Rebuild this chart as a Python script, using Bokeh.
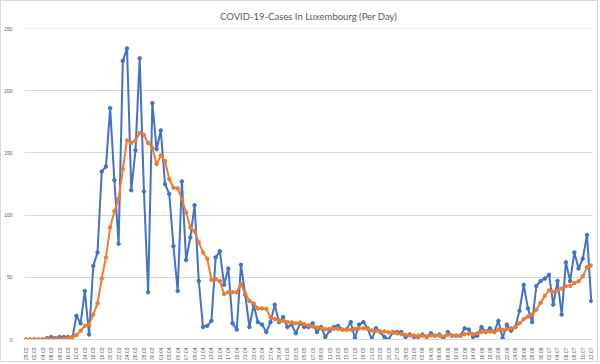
import pandas as pd
from math import pi
from bokeh.plotting import figure
from bokeh.models import FixedTicker, Range1d, ColumnDataSource
from bokeh.embed import file_html
from bokeh.resources import INLINE

# Daily new cases (blue)
cases = [0, 0, 0, 0, 0, 1, 2, 1, 2, 2,
         2, 0, 19, 13, 39, 4, 59, 70, 135, 139,
         186, 128, 77, 224, 234, 120, 152, 226, 119, 38,
         190, 153, 168, 125, 117, 75, 39, 127, 64, 82,
         108, 47, 10, 11, 15, 66, 71, 44, 57, 13,
         8, 60, 36, 10, 28, 14, 12, 6, 14, 28,
         14, 18, 10, 12, 5, 13, 10, 10, 13, 6,
         10, 2, 7, 10, 11, 8, 8, 14, 1, 12,
         14, 9, 0, 9, 6, 2, 0, 6, 6, 6,
         2, 4, 2, 2, 4, 2, 5, 3, 4, 0,
         6, 3, 3, 3, 9, 8, 2, 3, 10, 6,
         9, 6, 15, 1, 12, 7, 10, 23, 44, 25,
         14, 43, 47, 49, 52, 28, 47, 20, 62, 47,
         70, 57, 65, 84, 31]

# Moving average (orange)
average = [0, 0, 0, 0, 0, 0.2, 0.5, 0.5, 0.7, 0.5,
           1, 2, 3.5, 7, 11, 12, 20, 29, 49, 66,
           90, 103, 113, 137, 160, 158, 160, 166, 164.5, 158,
           154, 141, 148, 143.5, 129, 122, 121.5, 113, 102, 90,
           87, 78, 70, 65, 48, 48.6, 46.8, 36.5, 38, 38,
           38, 44.6, 37, 31, 29, 25, 25, 24.7, 17.7, 16.4,
           15.3, 15, 14, 13.7, 13, 13.7, 12.3, 11.3, 10.5, 9.7,
           9, 8.3, 8.6, 8.6, 8.6, 7.8, 7.8, 7.8, 8.6, 9,
           9, 8.6, 7.3, 7, 6.5, 6.5, 5.6, 5.6, 5, 4.3,
           3.8, 3.2, 3.2, 3, 3, 2.4, 3.2, 3, 3.2, 2.4,
           3.8, 3.2, 3.2, 3.2, 4.3, 4.6, 4.3, 5, 6, 6.5,
           6.5, 6, 7.8, 7.8, 8.3, 9, 10, 13, 16.4, 18.5,
           20, 24, 29.5, 35, 39.4, 38.3, 39.4, 41, 43, 43,
           45.4, 46.8, 50.8, 58, 59.4]

dates = list(pd.date_range("2020-02-29", periods=len(cases)).strftime("%d.%m"))
y_ticks = [0, 50, 100, 150, 200, 250]

idx = list(range(len(cases)))
src = ColumnDataSource(dict(x=idx, cases=cases, avg=average))

BLUE = "#4472C4"
ORANGE = "#ED7D31"
GRAY = "#595959"
GRID = "#D9D9D9"

p = figure(width=598, height=362, output_backend="svg", toolbar_location=None,
           x_range=Range1d(-0.3, len(cases) - 0.7), y_range=Range1d(0, 250),
           min_border_left=20, min_border_right=7, min_border_top=27, min_border_bottom=24,
           background_fill_color=None, border_fill_color=None)
p.styles = {"border": "1px solid #D9D9D9", "background-color": "white"}

p.title.text = "COVID-19-Cases In Luxembourg (Per Day)"
p.title.align = "center"
p.title.text_font = "Lato"
p.title.text_font_size = "9.5px"
p.title.text_font_style = "normal"
p.title.text_color = GRAY
p.title.standoff = 13

p.outline_line_color = None
p.xgrid.visible = False
p.ygrid.visible = False
# horizontal gridlines drawn as glyphs at the y tick values
p.hspan(y=y_ticks[1:], line_color=GRID, line_width=1, level="underlay")

p.yaxis.ticker = FixedTicker(ticks=y_ticks)
p.yaxis.axis_line_color = None
p.yaxis.major_tick_line_color = None
p.yaxis.minor_tick_line_color = None
p.yaxis.major_label_text_font_size = "5px"
p.yaxis.major_label_text_color = GRAY
p.yaxis.major_label_standoff = 6

p.xaxis.ticker = FixedTicker(ticks=idx[::2])
p.xaxis.major_label_overrides = {i: dates[i] for i in idx[::2]}
p.xaxis.major_label_orientation = pi / 2
p.xaxis.axis_line_color = GRID
p.xaxis.axis_line_width = 1
p.xaxis.major_tick_line_color = None
p.xaxis.minor_tick_line_color = None
p.xaxis.major_label_text_font_size = "5px"
p.xaxis.major_label_text_color = GRAY
p.xaxis.major_label_standoff = 2

p.line("x", "cases", source=src, line_color=BLUE, line_width=2)
p.scatter("x", "cases", source=src, size=3.5, fill_color=BLUE, line_color=BLUE)
p.line("x", "avg", source=src, line_color=ORANGE, line_width=2)
p.scatter("x", "avg", source=src, size=3.5, fill_color=ORANGE, line_color=ORANGE)

open("out.html", "w").write(file_html(p, INLINE))
